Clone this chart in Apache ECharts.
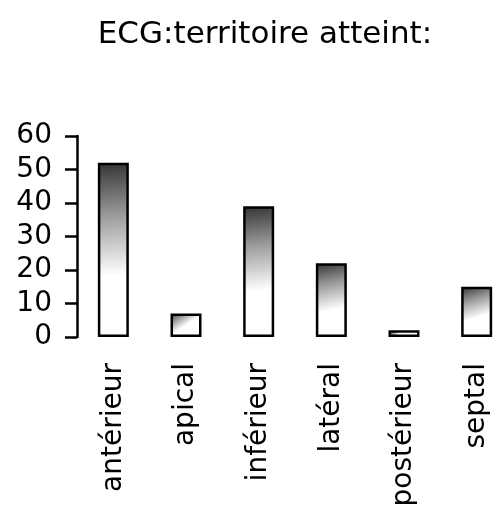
<!DOCTYPE html>
<html>
<head>
<meta charset="utf-8">
<script src="https://cdn.jsdelivr.net/npm/echarts@6/dist/echarts.min.js"></script>
<style>
  html, body { margin: 0; padding: 0; background: #fff; }
  #main { width: 503px; height: 506px; }
</style>
</head>
<body>
<div id="main"></div>
<script>
// données
var territoires = ['antérieur', 'apical', 'inférieur', 'latéral', 'postérieur', 'septal'];
var effectifs = [52, 7, 39, 22, 2, 15];

var myChart = echarts.init(document.getElementById('main'));

var fond = new echarts.graphic.LinearGradient(0, 0, 0.5, 1, [
    {offset: 0, color: '#333'},
    {offset: 0.3, color: '#999'},
    {offset: 0.65, color: '#fff'},
    {offset: 1, color: '#fff'}
]);

var option = {
    animation: false,
    title: {
        text: 'ECG:territoire atteint:',
        left: 260,
        textAlign: 'center',
        top: 14,
        textStyle: {
            fontFamily: 'DejaVu Sans',
            fontWeight: 'normal',
            fontSize: 31,
            color: '#000'
        }
    },
    grid: {
        left: 77,
        top: 136,
        width: 436,
        height: 201,
        outerBoundsMode: 'none'
    },
    xAxis: {
        type: 'category',
        data: territoires,
        axisLine: {show: false},
        axisTick: {show: false},
        axisLabel: {
            rotate: 90,
            margin: 26,
            interval: 0,
            color: '#000',
            fontFamily: 'DejaVu Sans',
            fontSize: 28
        }
    },
    yAxis: {
        type: 'value',
        min: 0,
        max: 60,
        interval: 10,
        splitLine: {show: false},
        axisLine: {show: true, lineStyle: {color: '#000', width: 2.5}},
        axisTick: {show: true, length: 12, lineStyle: {color: '#000', width: 2.5}},
        axisLabel: {
            margin: 25,
            color: '#000',
            fontFamily: 'DejaVu Sans',
            fontSize: 28
        }
    },
    series: [
        {
            type: 'bar',
            data: effectifs,
            barWidth: 31,
            itemStyle: {
                color: fond,
                borderColor: '#000',
                borderWidth: 2.5
            }
        }
    ]
};

myChart.setOption(option);
</script>
</body>
</html>
